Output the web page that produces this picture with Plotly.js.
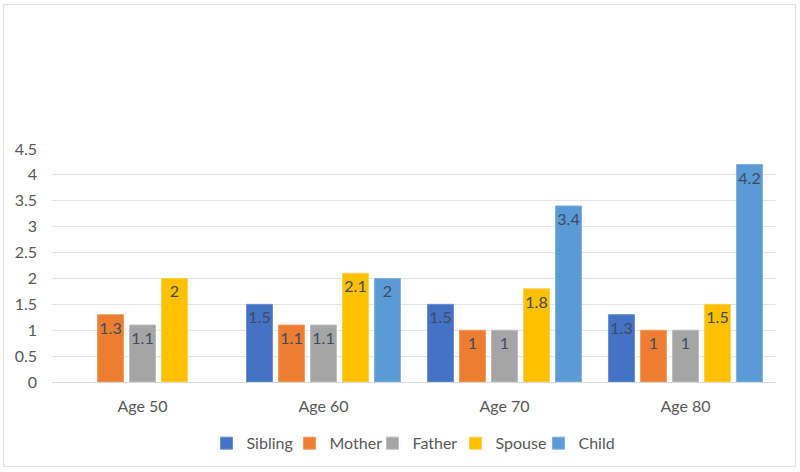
<!DOCTYPE html>
<html>
<head>
<meta charset="utf-8">
<script src="https://cdn.plot.ly/plotly-3.0.1.min.js"></script>
<style>
html,body{margin:0;padding:0;background:#fff;}
#wrap{position:relative;width:800px;height:472px;}
#chart{position:absolute;left:0;top:0;width:800px;height:472px;}
#frame{position:absolute;left:3px;top:4px;width:791px;height:461px;border:1px solid #DDE1E8;pointer-events:none;}
</style>
</head>
<body>
<div id="wrap"><div id="chart"></div><div id="frame"></div></div>
<script>
const categories = ["Age 50", "Age 60", "Age 70", "Age 80"];
const sibling = [null, 1.5, 1.5, 1.3];
const mother  = [1.3, 1.1, 1, 1];
const father  = [1.1, 1.1, 1, 1];
const spouse  = [2, 2.1, 1.8, 1.5];
const child   = [null, 2, 3.4, 4.2];
const yTicks = [0, 0.5, 1, 1.5, 2, 2.5, 3, 3.5, 4, 4.5];

const series = [
  {name: "Sibling", y: sibling, color: "#4472C4", line: "#6A8FD3"},
  {name: "Mother",  y: mother,  color: "#ED7D31", line: "#F29A5E"},
  {name: "Father",  y: father,  color: "#A5A5A5", line: "#BDBDBD"},
  {name: "Spouse",  y: spouse,  color: "#FFC000", line: "#FFD04D"},
  {name: "Child",   y: child,   color: "#5B9BD5", line: "#7FB1E0"}
];

const font = "Lato, 'Open Sans', 'Liberation Sans', sans-serif";

const traces = series.map(s => ({
  type: "bar",
  name: s.name,
  x: categories,
  y: s.y,
  marker: {color: s.color, line: {color: s.line, width: 1}},
  text: s.y.map(v => v === null ? "" : String(v)),
  textposition: "inside",
  insidetextanchor: "end",
  constraintext: "none",
  textangle: 0,
  insidetextfont: {family: font, size: 16, color: "#404B60"},
  hoverinfo: "x+y+name"
}));

const layout = {
  width: 800, height: 472,
  margin: {l: 52, r: 24, t: 149, b: 90},
  paper_bgcolor: "#ffffff",
  plot_bgcolor: "#ffffff",
  barmode: "group",
  bargap: 0.116,
  bargroupgap: 0.19,
  font: {family: font, size: 16, color: "#595959"},
  xaxis: {
    type: "category",
    showgrid: false,
    showline: true,
    linecolor: "#D9D9D9",
    linewidth: 1,
    ticks: "",
    ticklabelstandoff: 10,
    tickfont: {family: font, size: 16, color: "#595959"}
  },
  yaxis: {
    range: [0, 4.5],
    tickvals: yTicks,
    ticktext: yTicks.map(String),
    showgrid: true,
    gridcolor: "#E1E4EA",
    gridwidth: 1,
    zeroline: false,
    showline: false,
    ticks: "",
    ticklabelstandoff: 14,
    tickfont: {family: font, size: 16, color: "#595959"}
  },
  legend: {
    orientation: "h",
    x: 0.5, xanchor: "center",
    y: -0.19, yanchor: "top",
    font: {family: font, size: 16, color: "#595959"},
    itemwidth: 30,
    entrywidth: 38,
    traceorder: "normal"
  },
  showlegend: true
};

Plotly.newPlot("chart", traces, layout, {displayModeBar: false, staticPlot: true});
</script>
</body>
</html>
